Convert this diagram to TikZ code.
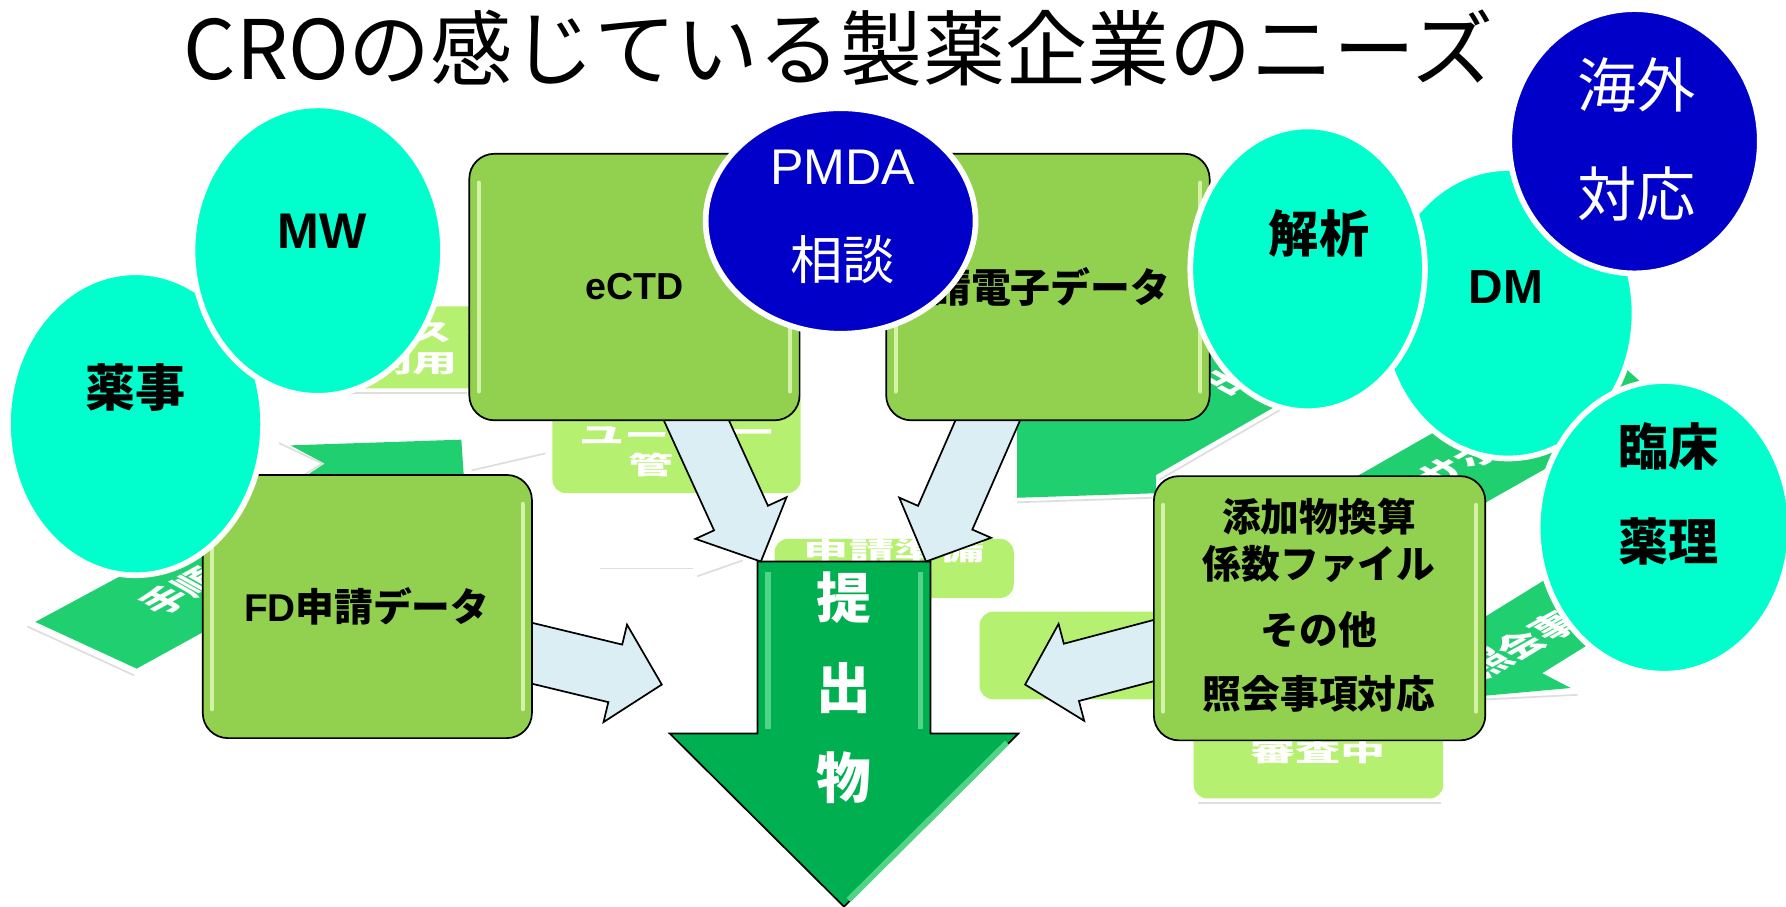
\documentclass[tikz,border=0pt]{standalone}
\usepackage{fontspec}
\usepackage{graphicx}
\setmainfont{Liberation Sans}
\newfontfamily\jp{Noto Sans CJK JP}
\usetikzlibrary{calc,shapes.geometric}
\definecolor{cyanc}{HTML}{00FFCC}
\definecolor{navyc}{HTML}{0000C8}
\definecolor{boxg}{HTML}{92D050}
\definecolor{arrg}{HTML}{00B050}
\definecolor{fadebox}{HTML}{B6F070}
\definecolor{fadearr}{HTML}{20D070}
\definecolor{lblue}{HTML}{DAEEF3}
\definecolor{glossc}{HTML}{D6F2A8}
\definecolor{arrhl}{HTML}{52D488}
\newcommand\fsz[1]{\fontsize{#1}{#1}\selectfont}
\newcommand\blkarrow[5]{%
 \path ($(#2)!#5!(#1)$) coordinate (bab);
 \draw[barrow] ($(#1)!#3!90:(#2)$) -- ($(bab)!#3!-90:(#1)$) -- ($(bab)!#4!-90:(#1)$) -- (#2) -- ($(bab)!#4!90:(#1)$) -- ($(bab)!#3!90:(#1)$) -- ($(#1)!#3!-90:(#2)$) -- cycle;}
\begin{document}
\begin{tikzpicture}[x=1pt,y=-1pt,
  bubble/.style={ellipse, draw=white, line width=5pt, inner sep=0pt},
  cbub/.style={bubble, fill=cyanc},
  nbub/.style={bubble, fill=navyc},
  gbox/.style={draw=black, line width=1.5pt, fill=boxg, rounded corners=22pt, inner sep=0pt},
  fbox/.style={fill=fadebox, rounded corners=12pt, inner sep=0pt},
  farrow/.style={fill=fadearr},
  fline/.style={draw=black!13, line width=1.5pt},
  barrow/.style={fill=lblue, draw=black, line width=1.5pt, line join=miter},
  bigarr/.style={fill=arrg, draw=black, line width=1.5pt, line join=miter},
  gloss/.style={draw=glossc, line width=3.5pt, line cap=round},
  ahl/.style={draw=arrhl, line width=5pt},
  ftext/.style={text=white, inner sep=0pt, font=\jp\bfseries\fsz{22}},
  rtext/.style={text=white, inner sep=0pt, font=\jp\bfseries\fsz{23}, xscale=1.8, rotate=45},
  jlab/.style={text=black, inner sep=0pt, font=\jp\bfseries\fsz{#1}},
  llab/.style={text=black, inner sep=0pt, font=\bfseries\fsz{#1}},
  wjlab/.style={text=white, inner sep=0pt, font=\jp\fsz{#1}},
  wbjlab/.style={text=white, inner sep=0pt, font=\jp\bfseries\fsz{#1}},
  wllab/.style={text=white, inner sep=0pt, font=\fsz{#1}}
]
\useasboundingbox (0,0) rectangle (1568,796);
\fill[white] (0,0) rectangle (1568,796);

% ---------- faded background diagram ----------
% notched band (left)
\fill[farrow] (255,391) -- (405,386) -- (408,430) -- (250,430) -- (285,407) -- cycle;
\draw[fline] (245,389) -- (283,407) -- (262,420);
% band "手順"
\fill[farrow] (31,546) -- (200,455) -- (200,543) -- (120,587) -- cycle;
\draw[fline] (24,550) -- (118,593);
% band "出物"
\fill[farrow] (893,360) -- (893,437) -- (1015,433) -- (1015,417) -- (1215,302) -- (1240,250) -- (1062,250) -- cycle;
\draw[fline] (1018,421) -- (1212,309);
\draw[fline] (893,441) -- (1012,437);
% band "サポート"
\fill[farrow] (1160,436) -- (1400,299) -- (1460,353) -- (1250,472) -- cycle;
% band "照会事項"
\fill[farrow] (1358,508) -- (1436,540) -- (1354,591) -- (1379,604) -- (1290,612) -- (1290,550) -- cycle;
\draw[fline] (1305,614) -- (1385,610);
% thin connectors
\draw[fline] (414,413) -- (479,398);
\draw[fline] (527,499) -- (608,499);
\draw[fline] (612,506) -- (652,492);

\node[fbox, minimum width=223pt, minimum height=72pt] (fbA) at (409.5,305) {};
\node[fbox, minimum width=218pt, minimum height=93pt] (fbB) at (594,386.5) {};
\node[fbox, minimum width=210pt, minimum height=52pt] (fbC) at (785,499) {};
\node[fbox, minimum width=180pt, minimum height=77pt] (fbD) at (950,575.5) {};
\node[fbox, minimum width=219pt, minimum height=82pt] (fbE) at (1157.5,660) {};
\draw[fline] (302,345) -- (410,345);
\draw[fline] (1052,705) -- (1265,705);

\node[ftext] (tA1) at (397,292) {\scalebox{1.8}[1]{ス・}};
\node[ftext] (tA2) at (362,319) {\scalebox{1.8}[1]{利用}};
\node[ftext] (tB1) at (548,382) {\scalebox{1.8}[1]{ユー}};
\node[ftext] (tB2) at (661,382) {\scalebox{1.8}[1]{ー}};
\node[ftext] (tB3) at (572,408) {\scalebox{1.8}[1]{管}};
\node[ftext] (tC) at (785,484) {\scalebox{1.8}[1]{申請準備}};
\node[ftext] (tE) at (1157,660) {\scalebox{1.8}[1]{審査中}};
\node[rtext] (tD) at (159,519) {手順};
\node[rtext] (tF1) at (1094,326) {出物};
\node[rtext] (tF2) at (1310,390) {サポート};
\node[rtext] (tF3) at (1350,558) {照会事項};

% ---------- big arrow ----------
\draw[bigarr] (665,493) -- (817,493) -- (817,644) -- (894,644) -- (741,796) -- (588,644) -- (665,644) -- cycle;
\draw[ahl] (674,502) -- (674,640);
\draw[ahl] (808,502) -- (808,640);
\draw[ahl] (884,652) -- (745,790);
\coordinate (subL) at (668,493);
\coordinate (subR) at (813,493);
\node[wbjlab=48] (s1) at (741,525) {提};
\node[wbjlab=48] (s2) at (741,604) {出};
\node[wbjlab=48] (s3) at (741,683) {物};

% ---------- light blue arrows ----------
\coordinate (a1s) at (599,342);
\coordinate (a2s) at (879,342);
\coordinate (a3s) at (440,567);
\coordinate (a3t) at (581,601);
\coordinate (a4s) at (1040,564);
\coordinate (a4t) at (900,601);
\blkarrow{a1s}{subL}{26pt}{44pt}{42pt}
\blkarrow{a2s}{subR}{26pt}{44pt}{42pt}
\blkarrow{a3s}{a3t}{26pt}{44pt}{42pt}
\blkarrow{a4s}{a4t}{26pt}{44pt}{42pt}

% ---------- green boxes ----------
\node[gbox, minimum width=290pt, minimum height=234pt] (ectd) at (557,252) {};
\node[gbox, minimum width=284pt, minimum height=234pt] (shinsei) at (920,252) {};
\node[gbox, minimum width=289pt, minimum height=231pt] (fd) at (322.5,532.5) {};
\node[gbox, minimum width=291pt, minimum height=232pt] (tenka) at (1158.5,534) {};
\foreach \b in {ectd,shinsei,fd,tenka}{
  \draw[gloss] ([xshift=9pt,yshift=-26pt]\b.north west) -- ([xshift=9pt,yshift=26pt]\b.south west);
  \draw[gloss] ([xshift=-9pt,yshift=-26pt]\b.north east) -- ([xshift=-9pt,yshift=26pt]\b.south east);
}
\node[llab=33] (ectdt) at (557,252) {eCTD};
\node[jlab=35] (shinseit) at (905,252) {申請電子データ};
\node[jlab=34] (fdt) at (322,532) {{\fontspec{Liberation Sans}\bfseries FD}申請データ};
\node[jlab=34] (tk1) at (1158,454) {添加物換算};
\node[jlab=34] (tk2) at (1158,495) {係数ファイル};
\node[jlab=34] (tk3) at (1158,553) {その他};
\node[jlab=34] (tk4) at (1158,609) {照会事項対応};

% ---------- circles ----------
\node[cbub, minimum width=224pt, minimum height=266pt] (yakuji) at (119,372) {};
\node[cbub, minimum width=220pt, minimum height=255pt] (mw) at (279,220) {};
\node[nbub, minimum width=237pt, minimum height=198pt] (pmda) at (738,194) {};
\node[cbub, minimum width=222pt, minimum height=255pt] (dm) at (1324,275) {};
\node[cbub, minimum width=206pt, minimum height=250pt] (kaiseki) at (1148,236) {};
\node[nbub, minimum width=220pt, minimum height=232pt] (kaigai) at (1435,124) {};
\node[cbub, minimum width=222pt, minimum height=257pt] (rinsho) at (1461,463) {};

\node[jlab=44] (yakujit) at (119,340) {薬事};
\node[llab=44] (mwt) at (283,203) {MW};
\node[wllab=44] (pmdat1) at (740,147) {PMDA};
\node[wjlab=46] (pmdat2) at (740,228) {相談};
\node[jlab=44] (kaisekit) at (1158,205) {解析};
\node[llab=42] (dmt) at (1322,252) {DM};
\node[wjlab=52] (kaigait1) at (1437,75) {海外};
\node[wjlab=52] (kaigait2) at (1437,170) {対応};
\node[jlab=44] (rinshot1) at (1465,392) {臨床};
\node[jlab=44] (rinshot2) at (1465,475) {薬理};

% ---------- title ----------
\node[inner sep=0pt, font=\jp\fsz{72}] (title) at (736,42) {CROの感じている製薬企業のニーズ};
\end{tikzpicture}
\end{document}
